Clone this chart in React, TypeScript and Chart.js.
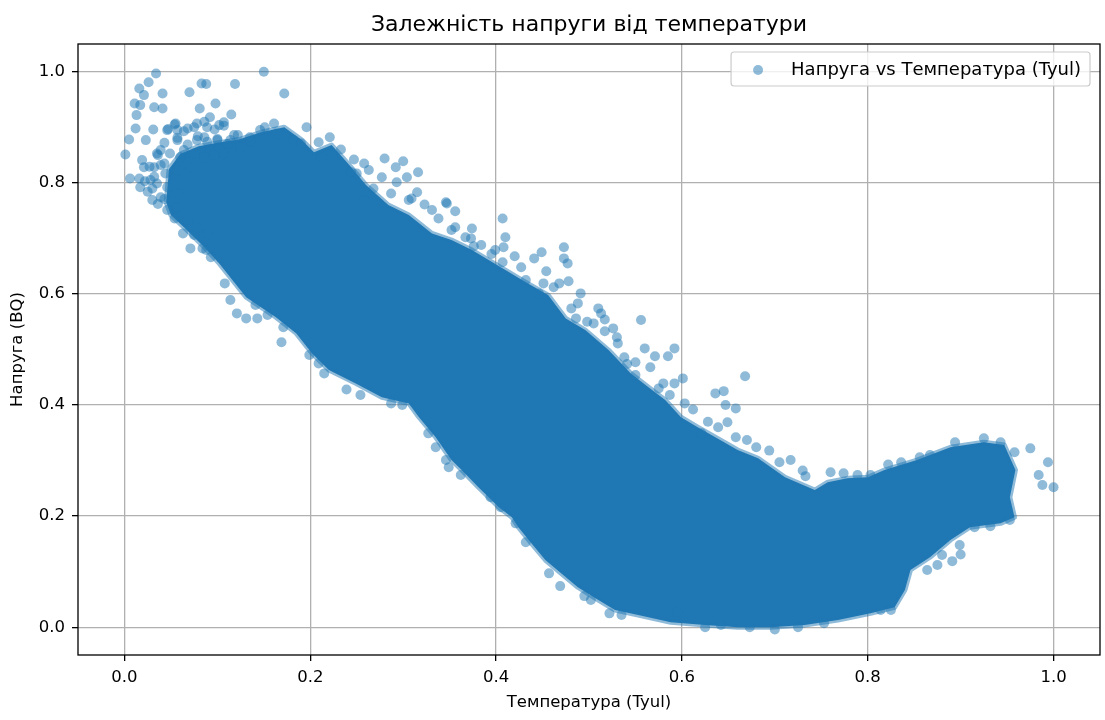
import React, { useEffect, useRef } from "react";
import { Chart, registerables } from "chart.js";

Chart.register(...registerables);

const TITLE = "Залежність напруги від температури";
const X_LABEL = "Температура (Tyul)";
const Y_LABEL = "Напруга (BQ)";
const SERIES_LABEL = "Напруга vs Температура (Tyul)";

const xTicks = [0, 0.2, 0.4, 0.6, 0.8, 1.0];
const yTicks = [0, 0.2, 0.4, 0.6, 0.8, 1.0];

// Outline of the saturated (fully overlapped) core of the point cloud
const coreX = [
  0.045, 0.048, 0.06, 0.08, 0.1, 0.123, 0.147, 0.172, 0.191, 0.204, 0.223, 0.242,
  0.26, 0.284, 0.306, 0.331, 0.352, 0.374, 0.392, 0.41, 0.432, 0.456,
  0.475, 0.496, 0.521, 0.545, 0.564, 0.582, 0.599, 0.617, 0.636, 0.66,
  0.682, 0.711, 0.743, 0.757, 0.778, 0.8, 0.818, 0.853, 0.889, 0.925,
  0.947, 0.959, 0.953, 0.958, 0.943, 0.91, 0.889, 0.867, 0.846, 0.84,
  0.829, 0.803, 0.768, 0.732, 0.696, 0.66, 0.625, 0.588, 0.553, 0.528,
  0.507, 0.488, 0.47, 0.453, 0.438, 0.424, 0.417, 0.403, 0.381, 0.363,
  0.352, 0.335, 0.317, 0.306, 0.277, 0.249, 0.22, 0.202, 0.185, 0.163,
  0.131, 0.102, 0.086, 0.064, 0.05,
];
const coreY = [
  0.765, 0.825, 0.852, 0.866, 0.872, 0.878, 0.891, 0.9, 0.877, 0.855, 0.868, 0.832,
  0.796, 0.76, 0.742, 0.709, 0.697, 0.679, 0.661, 0.643, 0.621, 0.598,
  0.556, 0.535, 0.499, 0.457, 0.432, 0.409, 0.378, 0.36, 0.342, 0.319,
  0.304, 0.27, 0.247, 0.261, 0.268, 0.27, 0.283, 0.301, 0.324, 0.333,
  0.328, 0.283, 0.234, 0.198, 0.187, 0.18, 0.157, 0.126, 0.103, 0.067,
  0.036, 0.025, 0.013, 0.004, 0.0, 0.0, 0.004, 0.009, 0.022, 0.031,
  0.052, 0.072, 0.097, 0.121, 0.151, 0.18, 0.198, 0.216, 0.252, 0.283,
  0.301, 0.342, 0.378, 0.403, 0.414, 0.439, 0.463, 0.493, 0.529, 0.558,
  0.594, 0.655, 0.684, 0.72, 0.742,
];

// Individually visible points around the core
const pointX = [
  0.034, 0.026, 0.016, 0.021, 0.041, 0.011, 0.017, 0.032, 0.041, 0.013,
  0.012, 0.031, 0.005, 0.001, 0.006, 0.019, 0.035, 0.03, 0.054, 0.063,
  0.075, 0.071, 0.084, 0.07, 0.083, 0.088, 0.119, 0.15, 0.172, 0.098,
  0.081, 0.115, 0.092, 0.102, 0.055, 0.046, 0.118, 0.151, 0.161, 0.196,
  0.209, 0.221, 0.247, 0.258, 0.263, 0.021, 0.016, 0.035, 0.044, 0.057,
  0.064, 0.078, 0.092, 0.125, 0.258, 0.25, 0.057, 0.068, 0.078, 0.089,
  0.107, 0.086, 0.1, 0.114, 0.039, 0.049, 0.06, 0.075, 0.086, 0.097,
  0.107, 0.032, 0.043, 0.057, 0.071, 0.028, 0.046, 0.057, 0.039, 0.046,
  0.057, 0.068, 0.078, 0.089, 0.146, 0.164, 0.182, 0.135, 0.017, 0.023,
  0.19, 0.244, 0.28, 0.292, 0.3, 0.316, 0.304, 0.277, 0.293, 0.287,
  0.315, 0.309, 0.323, 0.347, 0.356, 0.331, 0.338, 0.356, 0.374, 0.373,
  0.376, 0.407, 0.41, 0.408, 0.399, 0.42, 0.407, 0.441, 0.449, 0.454,
  0.473, 0.473, 0.477, 0.427, 0.432, 0.451, 0.468, 0.478, 0.491, 0.488,
  0.481, 0.486, 0.505, 0.51, 0.446, 0.513, 0.517, 0.526, 0.517, 0.556,
  0.53, 0.531, 0.56, 0.538, 0.55, 0.571, 0.585, 0.592, 0.566, 0.55,
  0.601, 0.58, 0.592, 0.587, 0.603, 0.668, 0.636, 0.645, 0.647, 0.658,
  0.649, 0.639, 0.658, 0.67, 0.68, 0.621, 0.705, 0.717, 0.733, 0.76,
  0.774, 0.789, 0.803, 0.822, 0.836, 0.856, 0.867, 0.894, 0.925, 0.943,
  0.958, 0.975, 0.994, 0.984, 0.988, 1.0, 0.953, 0.932, 0.915, 0.899,
  0.9, 0.891, 0.88, 0.875, 0.864, 0.825, 0.814, 0.753, 0.725, 0.673,
  0.625, 0.362, 0.349, 0.394, 0.405, 0.421, 0.432, 0.457, 0.469, 0.495,
  0.502, 0.522, 0.535, 0.088, 0.093, 0.108, 0.114, 0.121, 0.131, 0.143,
  0.154, 0.141, 0.169, 0.171, 0.199, 0.209, 0.215, 0.239, 0.254, 0.287,
  0.299, 0.327, 0.335, 0.346, 0.346,
  0.047, 0.054, 0.064, 0.075, 0.086, 0.097, 0.107,
  0.043, 0.057, 0.068, 0.079, 0.089, 0.1, 0.111, 0.122, 0.136,
  0.036, 0.039, 0.027, 0.032, 0.022, 0.025, 0.03, 0.036, 0.043,
  0.306, 0.352, 0.367, 0.384, 0.268, 0.233, 0.212, 0.395, 0.462, 0.498,
  0.541, 0.575, 0.612, 0.628, 0.694, 0.73, 0.568, 0.595, 0.642, 0.7,
];
const pointY = [
  0.997, 0.981, 0.97, 0.958, 0.961, 0.943, 0.94, 0.936, 0.934, 0.922,
  0.898, 0.896, 0.878, 0.851, 0.808, 0.841, 0.853, 0.769, 0.736, 0.709,
  0.706, 0.682, 0.682, 0.963, 0.979, 0.978, 0.978, 1.0, 0.961, 0.943,
  0.934, 0.923, 0.918, 0.904, 0.907, 0.895, 0.886, 0.9, 0.907, 0.9,
  0.873, 0.882, 0.842, 0.835, 0.823, 0.828, 0.808, 0.799, 0.817, 0.877,
  0.859, 0.877, 0.859, 0.864, 0.769, 0.817, 0.895, 0.898, 0.907, 0.9,
  0.909, 0.882, 0.877, 0.877, 0.859, 0.853, 0.846, 0.853, 0.846, 0.85,
  0.853, 0.828, 0.835, 0.823, 0.828, 0.805, 0.792, 0.781, 0.774, 0.751,
  0.756, 0.733, 0.72, 0.709, 0.895, 0.889, 0.877, 0.882, 0.792, 0.877,
  0.871, 0.819, 0.844, 0.828, 0.839, 0.819, 0.81, 0.81, 0.801, 0.781,
  0.783, 0.772, 0.761, 0.763, 0.749, 0.751, 0.736, 0.72, 0.718, 0.7,
  0.686, 0.736, 0.702, 0.684, 0.679, 0.668, 0.657, 0.664, 0.675, 0.641,
  0.684, 0.664, 0.655, 0.648, 0.625, 0.619, 0.619, 0.623, 0.601, 0.583,
  0.574, 0.556, 0.547, 0.574, 0.601, 0.565, 0.554, 0.538, 0.533, 0.553,
  0.522, 0.511, 0.502, 0.486, 0.477, 0.488, 0.488, 0.502, 0.468, 0.454,
  0.448, 0.439, 0.439, 0.418, 0.403, 0.452, 0.421, 0.425, 0.4, 0.394,
  0.369, 0.36, 0.342, 0.337, 0.324, 0.349, 0.297, 0.301, 0.272, 0.279,
  0.277, 0.274, 0.274, 0.293, 0.297, 0.306, 0.31, 0.333, 0.34, 0.333,
  0.315, 0.322, 0.297, 0.274, 0.256, 0.252, 0.193, 0.182, 0.18, 0.148,
  0.131, 0.119, 0.13, 0.112, 0.103, 0.031, 0.031, 0.007, 0.0, 0.0,
  0.0, 0.274, 0.288, 0.234, 0.216, 0.187, 0.153, 0.097, 0.074, 0.056,
  0.049, 0.025, 0.022, 0.679, 0.666, 0.619, 0.589, 0.565, 0.556, 0.556,
  0.562, 0.58, 0.513, 0.54, 0.49, 0.475, 0.457, 0.428, 0.418, 0.403,
  0.4, 0.349, 0.324, 0.301, 0.765,
  0.897, 0.905, 0.893, 0.9, 0.91, 0.896, 0.903,
  0.872, 0.881, 0.869, 0.884, 0.874, 0.879, 0.87, 0.886, 0.875,
  0.85, 0.832, 0.829, 0.811, 0.803, 0.784, 0.79, 0.762, 0.771,
  0.769, 0.715, 0.702, 0.688, 0.79, 0.86, 0.845, 0.672, 0.612, 0.55,
  0.474, 0.43, 0.392, 0.37, 0.318, 0.282, 0.06, 0.028, 0.004, -0.004,
];

const FONT = '"DejaVu Sans", "Liberation Sans", sans-serif';
const BLUE = "#1f77b4";
const BLUE_A = "rgba(31,119,180,0.5)";

const framePlugin = {
  id: "frameAndLegend",
  afterDraw(chart: any) {
    const { ctx, chartArea } = chart;
    const { left, top, right, bottom } = chartArea;
    ctx.save();
    // spines
    ctx.strokeStyle = "#000";
    ctx.lineWidth = 1.3;
    ctx.strokeRect(left, top, right - left, bottom - top);

    // legend
    const label = chart.data.datasets[0].label as string;
    ctx.font = `18px ${FONT}`;
    const tw = ctx.measureText(label).width;
    const boxR = right - 10;
    const boxT = top + 8;
    const boxH = 34;
    const boxL = boxR - 9 - tw - 60;
    const r = 3;
    ctx.beginPath();
    ctx.moveTo(boxL + r, boxT);
    ctx.lineTo(boxR - r, boxT);
    ctx.arcTo(boxR, boxT, boxR, boxT + r, r);
    ctx.lineTo(boxR, boxT + boxH - r);
    ctx.arcTo(boxR, boxT + boxH, boxR - r, boxT + boxH, r);
    ctx.lineTo(boxL + r, boxT + boxH);
    ctx.arcTo(boxL, boxT + boxH, boxL, boxT + boxH - r, r);
    ctx.lineTo(boxL, boxT + r);
    ctx.arcTo(boxL, boxT, boxL + r, boxT, r);
    ctx.closePath();
    ctx.fillStyle = "rgba(255,255,255,0.8)";
    ctx.fill();
    ctx.strokeStyle = "#cccccc";
    ctx.lineWidth = 1.2;
    ctx.stroke();

    const cy = boxT + boxH / 2 + 1;
    ctx.beginPath();
    ctx.arc(boxL + 27, cy, 5, 0, Math.PI * 2);
    ctx.fillStyle = BLUE_A;
    ctx.fill();

    ctx.fillStyle = "#000";
    ctx.textAlign = "left";
    ctx.textBaseline = "middle";
    ctx.fillText(label, boxL + 60, cy);
    ctx.restore();
  },
};

export default function App() {
  const canvasRef = useRef<HTMLCanvasElement | null>(null);

  useEffect(() => {
    const canvas = canvasRef.current;
    if (!canvas) return;

    const corePts = coreX.map((x, i) => ({ x, y: coreY[i] }));
    corePts.push({ x: coreX[0], y: coreY[0] });
    const pts = pointX.map((x, i) => ({ x, y: pointY[i] }));

    const tickFont = { family: FONT, size: 16.5 };

    const chart = new Chart(canvas, {
      type: "scatter",
      data: {
        datasets: [
          {
            label: SERIES_LABEL,
            data: pts,
            backgroundColor: BLUE_A,
            borderColor: BLUE_A,
            borderWidth: 0,
            pointRadius: 5,
            pointHoverRadius: 5,
            order: 1,
          } as any,
          {
            type: "line",
            label: "core",
            data: corePts,
            backgroundColor: BLUE,
            borderColor: BLUE_A,
            borderWidth: 5,
            borderJoinStyle: "round",
            pointRadius: 0,
            pointHoverRadius: 0,
            tension: 0,
            fill: "shape",
            order: 2,
          } as any,
        ],
      },
      options: {
        responsive: false,
        animation: false,
        devicePixelRatio: 1,
        events: [],
        layout: { padding: { left: 0, right: 2, top: 0, bottom: 0 } },
        plugins: {
          legend: { display: false },
          tooltip: { enabled: false },
          title: {
            display: true,
            text: TITLE,
            fullSize: false,
            color: "#000",
            font: { family: FONT, size: 22, weight: "normal" },
            padding: { top: 12.1, bottom: 5.5 },
          },
        },
        scales: {
          x: {
            type: "linear",
            min: -0.05,
            max: 1.05,
            z: 1,
            afterBuildTicks: (scale: any) => {
              scale.ticks = xTicks.map((v) => ({ value: v }));
            },
            afterFit: (scale: any) => {
              scale.height = 65;
            },
            ticks: {
              autoSkip: false,
              maxRotation: 0,
              padding: 7,
              color: "#000",
              font: tickFont,
              callback: (v: any) => Number(v).toFixed(1),
            },
            grid: {
              color: "#b0b0b0",
              lineWidth: 1.3,
              drawTicks: true,
              tickLength: 6,
              tickColor: "#000",
              tickWidth: 1.3,
            },
            border: { display: false },
            title: {
              display: true,
              text: X_LABEL,
              color: "#000",
              font: tickFont,
              padding: { top: 0, bottom: 7.1 },
            },
          },
          y: {
            type: "linear",
            min: -0.05,
            max: 1.05,
            z: 1,
            afterBuildTicks: (scale: any) => {
              scale.ticks = yTicks.map((v) => ({ value: v }));
            },
            afterFit: (scale: any) => {
              scale.width = 78;
            },
            ticks: {
              autoSkip: false,
              padding: 7,
              color: "#000",
              font: tickFont,
              callback: (v: any) => Number(v).toFixed(1),
            },
            grid: {
              color: "#b0b0b0",
              lineWidth: 1.3,
              drawTicks: true,
              tickLength: 6,
              tickColor: "#000",
              tickWidth: 1.3,
            },
            border: { display: false },
            title: {
              display: true,
              text: Y_LABEL,
              color: "#000",
              font: tickFont,
              padding: { top: 7.9, bottom: 0 },
            },
          },
        },
      },
      plugins: [framePlugin],
    });

    return () => chart.destroy();
  }, []);

  return (
    <div
      style={{
        position: "fixed",
        left: 0,
        top: 0,
        width: 1105,
        height: 720,
        background: "#fff",
      }}
    >
      <canvas
        ref={canvasRef}
        width={1105}
        height={720}
        style={{ width: 1105, height: 720, display: "block" }}
      />
    </div>
  );
}
